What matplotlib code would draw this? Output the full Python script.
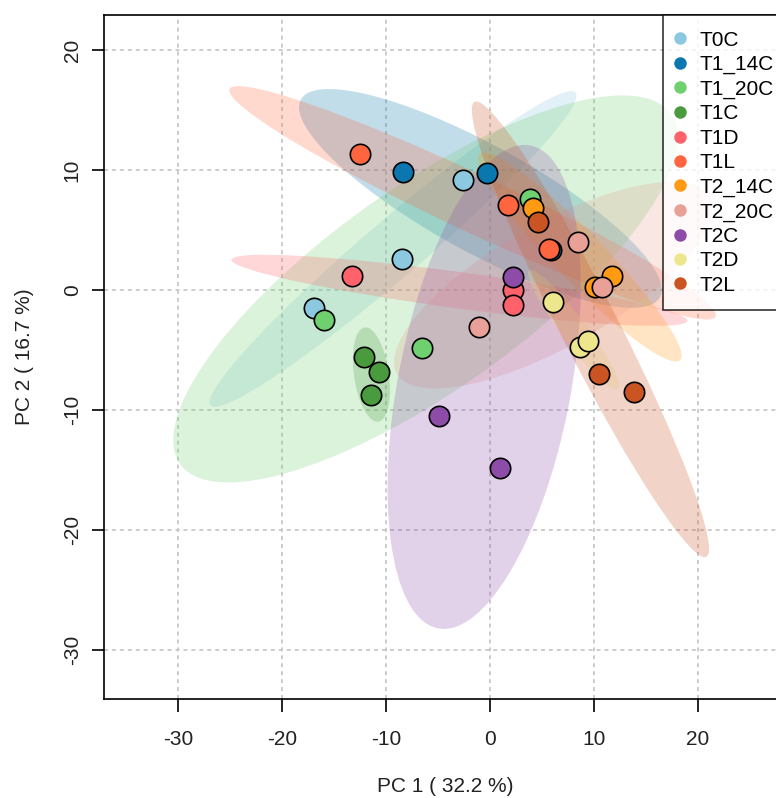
import numpy as np
import matplotlib
matplotlib.use("Agg")
import matplotlib.pyplot as plt
from matplotlib.patches import Ellipse
from matplotlib.lines import Line2D

plt.rcParams["font.family"] = ["Liberation Sans", "DejaVu Sans"]
plt.rcParams["axes.unicode_minus"] = False

# PCA scores, three samples per group
groups = ["T0C", "T1_14C", "T1_20C", "T1C", "T1D", "T1L",
          "T2_14C", "T2_20C", "T2C", "T2D", "T2L"]
colors = ["#8CC8E0", "#0A78AE", "#6FD06F", "#4A9A3E", "#FF626B", "#FF653F",
          "#FF9A12", "#E9A096", "#8C4CA8", "#EEE68C", "#CA5522"]
pc1 = {
    "T0C": [-8.49, -16.92, -2.57],
    "T1_14C": [-8.34, -0.32, 5.87],
    "T1_20C": [3.85, -15.96, -6.51],
    "T1C": [-12.09, -10.64, -11.47],
    "T1D": [-13.27, 2.24, 2.24],
    "T1L": [-12.47, 1.76, 5.70],
    "T2_14C": [4.11, 10.10, 11.70],
    "T2_20C": [8.49, 10.74, -1.03],
    "T2C": [2.24, -4.88, 0.96],
    "T2D": [6.03, 8.65, 9.45],
    "T2L": [4.64, 10.48, 13.85],
}
pc2 = {
    "T0C": [2.56, -1.48, 9.17],
    "T1_14C": [9.83, 9.73, 3.33],
    "T1_20C": [7.58, -2.50, -4.81],
    "T1C": [-5.56, -6.83, -8.75],
    "T1D": [1.17, 0.00, -1.25],
    "T1L": [11.33, 7.08, 3.39],
    "T2_14C": [6.81, 0.22, 1.19],
    "T2_20C": [3.97, 0.28, -3.06],
    "T2C": [1.11, -10.53, -14.81],
    "T2D": [-0.98, -4.72, -4.22],
    "T2L": [5.64, -7.00, -8.47],
}
xticks = [-30, -20, -10, 0, 10, 20]
yticks = [-30, -20, -10, 0, 10, 20]

# 95% confidence ellipse radius for 2 dof
T95 = np.sqrt(-2 * np.log(0.05))

W, H = 776, 798
AX_L, AX_R, AX_T, AX_B = 104, 786, 15, 699
fig = plt.figure(figsize=(W / 100, H / 100), dpi=100)
ax = fig.add_axes([AX_L / W, (H - AX_B) / H, (AX_R - AX_L) / W, (AX_B - AX_T) / H])

for g, c in zip(groups, colors):
    pts = np.column_stack([pc1[g], pc2[g]])
    cov = np.cov(pts, rowvar=False)
    vals, vecs = np.linalg.eigh(cov)
    order = vals.argsort()[::-1]
    vals, vecs = vals[order], vecs[:, order]
    angle = np.degrees(np.arctan2(vecs[1, 0], vecs[0, 0]))
    ell = Ellipse(pts.mean(axis=0), 2 * T95 * np.sqrt(vals[0]), 2 * T95 * np.sqrt(vals[1]),
                  angle=angle, facecolor=c, edgecolor="none", alpha=0.25, zorder=1)
    ax.add_patch(ell)

for g, c in zip(groups, colors):
    ax.scatter(pc1[g], pc2[g], s=215, color=c, edgecolor="black", linewidth=1.2, zorder=3)

ax.set_xlim((AX_L - 490) / 10.4, (AX_R - 490) / 10.4)
ax.set_ylim((290 - AX_B) / 12, (290 - AX_T) / 12)
ax.set_xticks(xticks)
ax.set_yticks(yticks)
ax.grid(True, color="#C8C8C8", linestyle=(0, (2.2, 2.2)), linewidth=1.3, zorder=0)
ax.set_axisbelow(True)

for s in ["left", "bottom", "top"]:
    ax.spines[s].set_linewidth(1.2)
ax.spines["right"].set_visible(False)
ax.tick_params(axis="both", length=9, width=1.2, labelsize=15, labelcolor="#222222")
ax.tick_params(axis="x", pad=13)
ax.tick_params(axis="y", pad=7, labelrotation=90)
for lab in ax.get_yticklabels():
    lab.set_va("center")

ax.set_xlabel("PC 1 ( 32.2 %)", fontsize=15, color="#222222", va="center")
ax.xaxis.set_label_coords(0.5, -(787 - AX_B) / (AX_B - AX_T))
ax.set_ylabel("PC 2 ( 16.7 %)", fontsize=15, color="#222222", va="center")
ax.yaxis.set_label_coords(-(AX_L - 25) / (AX_R - AX_L), 0.5)

handles = [Line2D([], [], linestyle="none", marker="o", markersize=9,
                  markerfacecolor=c, markeredgecolor="none") for c in colors]
leg = ax.legend(handles, groups, loc="upper left",
                bbox_to_anchor=((662.7 - AX_L) / (AX_R - AX_L), 1.0),
                fontsize=15, frameon=True, fancybox=False, borderaxespad=0,
                borderpad=0.75, labelspacing=0.26, handlelength=0.16, handletextpad=0.88)
leg.get_frame().set_edgecolor("black")
leg.get_frame().set_linewidth(1.2)
leg.set_zorder(5)

fig.savefig("out.png", dpi=100)
